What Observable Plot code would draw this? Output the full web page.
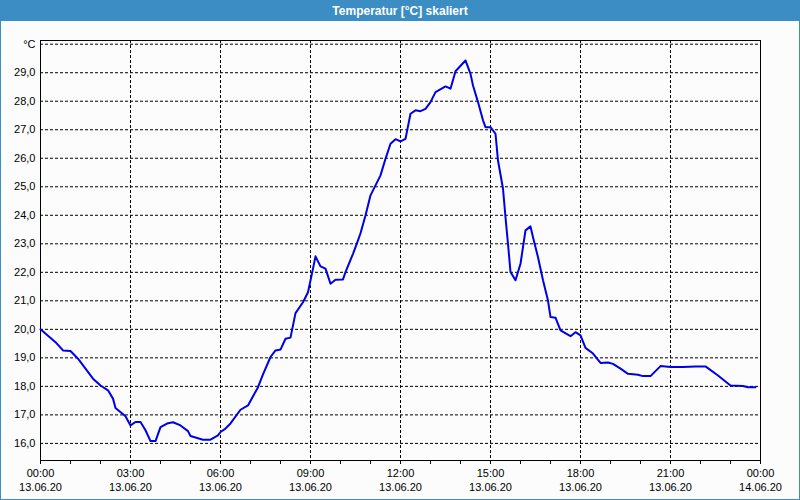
<!DOCTYPE html>
<html>
<head>
<meta charset="utf-8">
<script src="https://cdn.jsdelivr.net/npm/d3@7"></script>
<script src="https://cdn.jsdelivr.net/npm/@observablehq/plot@0.6"></script>
<style>
  html, body { margin: 0; padding: 0; background: #fbfcfb; }
  #wrap { width: 798px; height: 498px; border: 1px solid #3c8dc4; background: #fbfcfb; overflow: hidden; }
  #title { height: 20px; background: #3c8dc4; color: #fff; font: bold 12px "Liberation Sans", sans-serif; text-align: center; line-height: 20px; }
</style>
</head>
<body>
<div id="wrap">
  <div id="title">Temperatur [°C] skaliert</div>
  <div id="chart"></div>
</div>
<script>
// Time of reading (13.06.20) and temperature in °C
const times = ["00:00","00:30","00:45","01:00","01:15","01:30","01:45","02:00","02:15","02:25","02:30","02:50",
  "03:00","03:10","03:20","03:30","03:40","03:50","04:00","04:15","04:25","04:40","04:55","05:00","05:25","05:40","05:55",
  "06:00","06:10","06:20","06:40","06:55","07:15","07:25","07:40","07:50","08:00","08:10","08:20","08:30","08:45","08:55",
  "09:05","09:10","09:20","09:30","09:40","09:50","10:05","10:10","10:25","10:35","10:40","10:50",
  "11:00","11:10","11:20","11:30","11:40","11:50","12:00","12:10","12:20","12:30","12:40","12:50",
  "13:00","13:10","13:30","13:40","13:50","14:10","14:20","14:25","14:35","14:45","14:50",
  "15:00","15:10","15:15","15:25","15:30","15:35","15:40","15:50","16:00","16:10","16:20","16:25","16:35","16:45","16:55",
  "17:00","17:10","17:20","17:40","17:50","18:00","18:10","18:25","18:40","18:55","19:05","19:20","19:35","19:55",
  "20:05","20:20","20:40","21:00","21:25","21:50","22:10","22:35","23:00","23:25","23:35","23:50"];
const temps = [20.0,19.55,19.26,19.24,18.97,18.62,18.27,18.03,17.86,17.57,17.24,16.95,
  16.63,16.75,16.75,16.46,16.08,16.08,16.57,16.71,16.74,16.63,16.43,16.26,16.13,16.13,16.28,
  16.40,16.52,16.70,17.18,17.33,17.97,18.42,19.03,19.26,19.29,19.67,19.71,20.57,20.95,21.30,
  22.13,22.56,22.21,22.13,21.60,21.74,21.75,22.01,22.65,23.12,23.37,23.99,
  24.70,25.05,25.40,25.98,26.51,26.67,26.59,26.68,27.56,27.68,27.65,27.73,
  27.97,28.32,28.52,28.44,29.05,29.43,28.96,28.55,27.97,27.33,27.09,
  27.09,26.86,25.92,24.93,23.93,23.00,22.01,21.72,22.30,23.47,23.61,23.23,22.53,21.72,21.01,
  20.43,20.41,19.96,19.76,19.90,19.79,19.35,19.15,18.82,18.84,18.79,18.62,18.44,18.41,
  18.36,18.36,18.71,18.68,18.68,18.70,18.70,18.38,18.03,18.01,17.97,17.97];
const yTicks = [16,17,18,19,20,21,22,23,24,25,26,27,28,29,30];
const unitLabel = "°C";

const start = new Date(2020, 5, 13, 0, 0);
const end = new Date(2020, 5, 14, 0, 0);
const data = times.map((t, i) => {
  const [h, m] = t.split(":").map(Number);
  return {date: new Date(2020, 5, 13, h, m), temp: temps[i]};
});
const hourTicks = d3.timeHour.range(start, d3.timeHour.offset(end, 1));
const majorTicks = d3.timeHour.every(3).range(start, d3.timeHour.offset(end, 1));
const innerMajor = majorTicks.filter(d => +d !== +start && +d !== +end);

const chart = Plot.plot({
  width: 798,
  height: 478,
  marginTop: 19,
  marginBottom: 39,
  marginLeft: 39,
  marginRight: 39,
  style: {fontFamily: "'Liberation Sans', sans-serif", fontSize: "11px", background: "transparent", color: "#000"},
  x: {type: "time", domain: [start, end]},
  y: {domain: [15.4, 30.13]},
  marks: [
    Plot.gridY(yTicks, {stroke: "#000", strokeOpacity: 1, strokeDasharray: "3,2"}),
    Plot.gridX(innerMajor, {stroke: "#000", strokeOpacity: 1, strokeDasharray: "3,2"}),
    Plot.frame({stroke: "#000"}),
    Plot.axisY(yTicks, {tickSize: 0, tickPadding: 5, tickFormat: d => d === 30 ? unitLabel : d.toFixed(1).replace(".", ","), label: null}),
    Plot.axisX(hourTicks, {tickSize: 4, tickFormat: () => "", label: null}),
    Plot.axisX(majorTicks, {tickSize: 0, tickPadding: 9, tickFormat: d3.timeFormat("%H:%M"), label: null}),
    Plot.axisX(majorTicks, {tickSize: 0, tickPadding: 23, tickFormat: d3.timeFormat("%d.%m.%y"), label: null}),
    Plot.line(data, {x: "date", y: "temp", stroke: "#0000e6", strokeWidth: 2})
  ]
});
document.getElementById("chart").appendChild(chart);
</script>
</body>
</html>
